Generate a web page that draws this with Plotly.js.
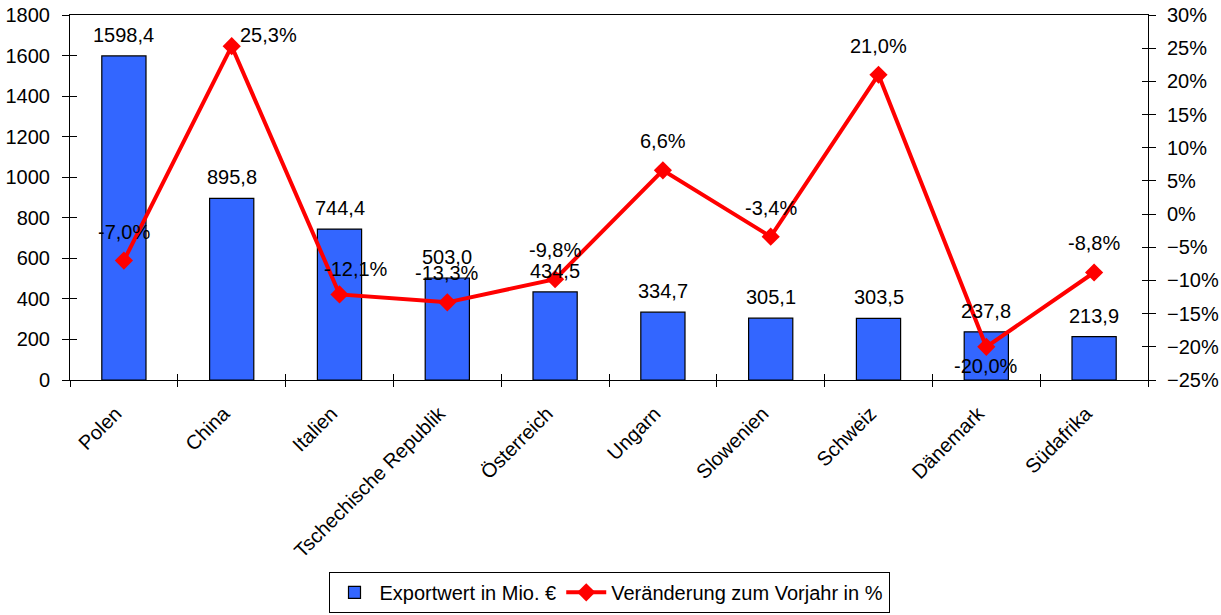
<!DOCTYPE html>
<html>
<head>
<meta charset="utf-8">
<script src="https://cdn.plot.ly/plotly-3.0.1.min.js"></script>
<style>
  html, body { margin: 0; padding: 0; background: #ffffff; }
  #chart { width: 1221px; height: 615px; }
</style>
</head>
<body>
<div id="chart"></div>
<script>
const categories = ['Polen', 'China', 'Italien', 'Tschechische Republik', 'Österreich', 'Ungarn', 'Slowenien', 'Schweiz', 'Dänemark', 'Südafrika'];
const exportValues = [1598.4, 895.8, 744.4, 503.0, 434.5, 334.7, 305.1, 303.5, 237.8, 213.9];
const changeValues = [-7.0, 25.3, -12.1, -13.3, -9.8, 6.6, -3.4, 21.0, -20.0, -8.8];
const changeLabelPlacement = ['above', 'right', 'aboveRight', 'above', 'above', 'above', 'above', 'above', 'below', 'above'];
const exportName = 'Exportwert in Mio. €';
const changeName = 'Veränderung zum Vorjahr in %';

const FONT = 'Liberation Sans, Arial, sans-serif';
const FS = 20;
const fmt = v => v.toFixed(1).replace('.', ',');

const traces = [
  {
    type: 'bar', name: exportName, x: categories, y: exportValues,
    xaxis: 'x', yaxis: 'y',
    marker: { color: '#3366FF', line: { color: '#000000', width: 1.2 } },
    width: 0.41, hoverinfo: 'skip'
  },
  {
    type: 'scatter', mode: 'lines+markers', name: changeName, x: categories, y: changeValues,
    xaxis: 'x', yaxis: 'y2',
    line: { color: '#FF0000', width: 4 },
    marker: { symbol: 'diamond', size: 14, color: '#FF0000' },
    hoverinfo: 'skip'
  },
  { type: 'scatter', mode: 'markers', x: categories, y: categories.map(() => null), xaxis: 'x2', yaxis: 'y3', showlegend: false, hoverinfo: 'skip' },
  { type: 'scatter', mode: 'markers', x: categories, y: categories.map(() => null), xaxis: 'x2', yaxis: 'y4', showlegend: false, hoverinfo: 'skip' }
];

const annotations = [];
categories.forEach((c, i) => {
  annotations.push({
    x: c, y: exportValues[i], xref: 'x', yref: 'y', text: fmt(exportValues[i]),
    showarrow: false, xanchor: 'center', yanchor: 'bottom', yshift: 8,
    font: { family: FONT, size: FS, color: '#000000' }
  });
  const p = changeLabelPlacement[i];
  const a = {
    x: c, y: changeValues[i], xref: 'x', yref: 'y2', text: fmt(changeValues[i]) + '%',
    showarrow: false, font: { family: FONT, size: FS, color: '#000000' }
  };
  if (p === 'above') { a.xanchor = 'center'; a.yanchor = 'bottom'; a.yshift = 16; }
  else if (p === 'aboveRight') { a.xanchor = 'center'; a.yanchor = 'bottom'; a.yshift = 12; a.xshift = 16; }
  else if (p === 'below') { a.xanchor = 'center'; a.yanchor = 'top'; a.yshift = -6; }
  else { a.xanchor = 'left'; a.yanchor = 'middle'; a.xshift = 6; a.yshift = 11; }
  annotations.push(a);
});

const tickFont = { family: FONT, size: FS, color: '#000000' };
const layout = {
  width: 1221, height: 615,
  margin: { l: 70, r: 73, t: 15, b: 235, autoexpand: false },
  paper_bgcolor: '#ffffff', plot_bgcolor: '#ffffff',
  font: { family: FONT, size: FS, color: '#000000' },
  showlegend: true,
  bargap: 0.59,
  legend: {
    orientation: 'h', x: 0.5, xanchor: 'center', y: -0.638, yanchor: 'bottom',
    bordercolor: '#000000', borderwidth: 1, font: { family: FONT, size: FS, color: '#000000' },
    tracegroupgap: 0, itemwidth: 40
  },
  xaxis: {
    type: 'category', categoryarray: categories, range: [-0.5, categories.length - 0.5],
    tickson: 'boundaries', ticks: 'outside', ticklen: 6, tickcolor: '#000000', tickwidth: 1,
    tickangle: -45, tickfont: tickFont, ticklabelstandoff: 13, ticklabelshift: -8, automargin: false,
    showline: true, linecolor: '#000000', linewidth: 1, mirror: true,
    showgrid: false, zeroline: false, fixedrange: true
  },
  yaxis: {
    range: [0, 1800], dtick: 200, tick0: 0, automargin: false,
    ticks: 'outside', ticklen: 7, tickcolor: '#000000', tickwidth: 1, ticklabelstandoff: 8,
    tickfont: tickFont, showline: true, linecolor: '#000000', linewidth: 1,
    showgrid: false, zeroline: false, fixedrange: true
  },
  yaxis2: {
    overlaying: 'y', side: 'right', range: [-25, 30], dtick: 5, tick0: 0, ticksuffix: '%', automargin: false,
    ticks: 'outside', ticklen: 7, tickcolor: '#000000', tickwidth: 1, ticklabelstandoff: 7,
    tickfont: tickFont, showline: true, linecolor: '#000000', linewidth: 1,
    showgrid: false, zeroline: false, fixedrange: true
  },
  xaxis2: {
    overlaying: 'x', anchor: 'y3', type: 'category', categoryarray: categories,
    range: [-0.5, categories.length - 0.5], tickson: 'boundaries',
    ticks: 'inside', ticklen: 6, tickcolor: '#000000', tickwidth: 1,
    showticklabels: false, showline: false, showgrid: false, zeroline: false, fixedrange: true
  },
  yaxis3: {
    overlaying: 'y', side: 'left', anchor: 'x2', range: [0, 1800], dtick: 200, tick0: 0,
    ticks: 'inside', ticklen: 7, tickcolor: '#000000', tickwidth: 1,
    showticklabels: false, showline: false, showgrid: false, zeroline: false, fixedrange: true
  },
  yaxis4: {
    overlaying: 'y', side: 'right', anchor: 'x2', range: [-25, 30], dtick: 5, tick0: 0,
    ticks: 'inside', ticklen: 6, tickcolor: '#000000', tickwidth: 1,
    showticklabels: false, showline: false, showgrid: false, zeroline: false, fixedrange: true
  },
  annotations: annotations
};

Plotly.newPlot('chart', traces, layout, { displayModeBar: false, staticPlot: true });
</script>
</body>
</html>
